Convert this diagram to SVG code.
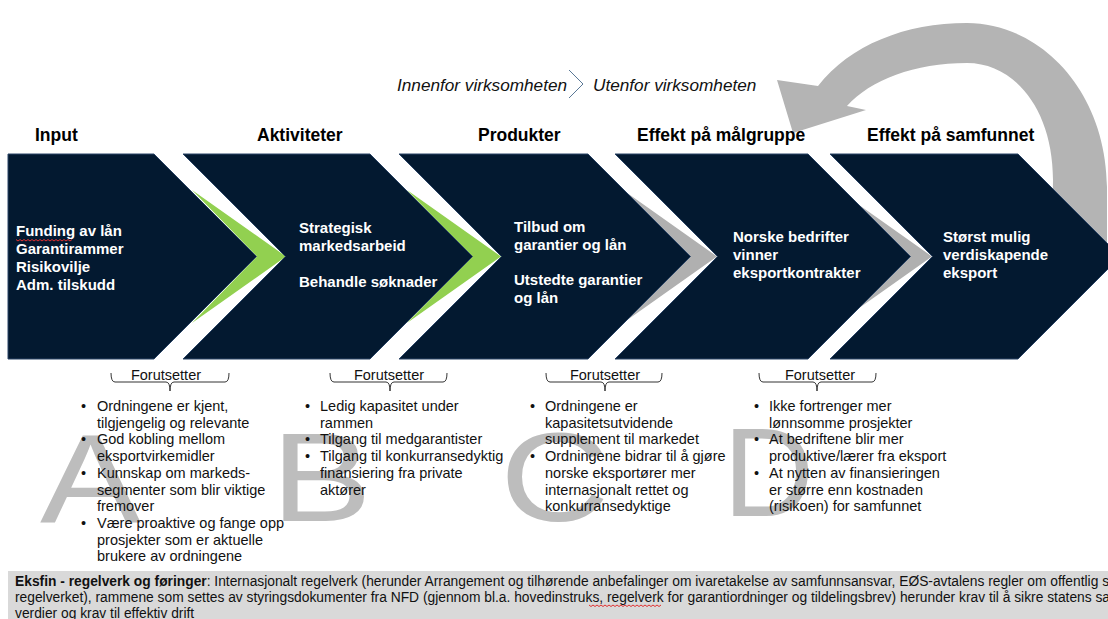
<svg xmlns="http://www.w3.org/2000/svg" width="1108" height="619" viewBox="0 0 1108 619">
<defs>
<style>
.hdr{font-family:"Liberation Sans",Arial,sans-serif;font-weight:bold;font-size:17.5px;fill:#000}
.box{fill:#031930;stroke:#2a4466;stroke-width:1}
.bt{font-family:"Liberation Sans",Arial,sans-serif;font-weight:bold;font-size:15px;fill:#fff}
.big{font-family:"Liberation Sans",Arial,sans-serif;font-size:126px;fill:#bdbdbd}
.li{font-family:"Liberation Sans",Arial,sans-serif;font-size:14.5px;fill:#111}
.fo{font-family:"Liberation Sans",Arial,sans-serif;font-size:14.5px;fill:#111;text-anchor:middle}
.br{fill:none;stroke:#333;stroke-width:1}
.it{font-family:"Liberation Sans",Arial,sans-serif;font-style:italic;font-size:17.2px;fill:#111}
.ft{font-family:"Liberation Sans",Arial,sans-serif;font-size:13.8px;fill:#111}
.green{fill:#92d050}
.grey{fill:#b0b0b0}
.wave{fill:none;stroke:#e03030;stroke-width:1}
</style>
</defs>
<rect width="1108" height="619" fill="#fff"/>

<!-- big background letters -->
<g id="letters">
<text class="big" transform="translate(40,522) scale(1.2,1)">A</text>
<text class="big" transform="translate(271,521) scale(1.2,1)">B</text>
<text class="big" transform="translate(500,521) scale(1.2,1)">C</text>
<text class="big" font-size="120" x="723" y="516">D</text>
</g>

<!-- connectors: accent chevrons and feedback arrow -->
<g id="connectors">
<path class="green" d="M192,190 L286,256.5 L192,323 L257,256.5 Z"/>
<path class="green" d="M407,190 L501,256.5 L407,323 L472,256.5 Z"/>
<path class="grey" d="M623,190 L717,256.5 L623,323 L688,256.5 Z"/>
<path class="grey" d="M838,190 L932,256.5 L838,323 L903,256.5 Z"/>
<path fill="#b4b4b4" d="M1107,250 L1107,187 C1106,90 1040,23 967,23 C905,23 850,45 818,86 L777,80 L793,133 L866,110 L847,106 C870,80 915,63 967,63 C1015,63 1053,110 1053,180 L1052,250 Z"/>
</g>

<!-- headers -->
<g id="headers">
<text class="hdr" x="35" y="141">Input</text>
<text class="hdr" x="257" y="141">Aktiviteter</text>
<text class="hdr" x="478" y="141">Produkter</text>
<text class="hdr" x="637" y="141">Effekt på målgruppe</text>
<text class="hdr" x="867" y="141">Effekt på samfunnet</text>
</g>

<g id="scope-label">
<text class="it" x="397" y="91">Innenfor virksomheten</text>
<path d="M569,70 L583,84 L569,98" fill="none" stroke="#5a7896" stroke-width="1"/>
<text class="it" x="593" y="91">Utenfor virksomheten</text>
</g>

<g id="node-input">
<path class="box" d="M8,154 H154 L256.5,256.5 L154,359 H8 Z"/>
<text class="bt" x="16" y="236">Funding av lån</text>
<text class="bt" x="16" y="254">Garantirammer</text>
<text class="bt" x="16" y="272">Risikovilje</text>
<text class="bt" x="16" y="290">Adm. tilskudd</text>
<path class="wave" d="M16,239.5 l2,1.5 l2,-1.5 l2,1.5 l2,-1.5 l2,1.5 l2,-1.5 l2,1.5 l2,-1.5 l2,1.5 l2,-1.5 l2,1.5 l2,-1.5 l2,1.5 l2,-1.5 l2,1.5 l2,-1.5 l2,1.5 l2,-1.5 l2,1.5 l2,-1.5 l2,1.5 l2,-1.5 l2,1.5 l2,-1.5 l2,1.5 l2,-1.5 l2,1.5 l2,-1.5"/>
</g>

<g id="node-aktiviteter">
<path class="box" d="M183,154 H370 L472.5,256.5 L370,359 H183 L285.5,256.5 Z"/>
<text class="bt" x="299" y="233">Strategisk</text>
<text class="bt" x="299" y="251">markedsarbeid</text>
<text class="bt" x="299" y="287">Behandle søknader</text>
</g>

<g id="node-produkter">
<path class="box" d="M399,154 H588 L690.5,256.5 L588,359 H399 L501.5,256.5 Z"/>
<text class="bt" x="514" y="232">Tilbud om</text>
<text class="bt" x="514" y="250">garantier og lån</text>
<text class="bt" x="514" y="285">Utstedte garantier</text>
<text class="bt" x="514" y="303">og lån</text>
</g>

<g id="node-malgruppe">
<path class="box" d="M615,154 H808 L910.5,256.5 L808,359 H615 L717.5,256.5 Z"/>
<text class="bt" x="733" y="242">Norske bedrifter</text>
<text class="bt" x="733" y="260">vinner</text>
<text class="bt" x="733" y="278">eksportkontrakter</text>
</g>

<g id="node-samfunnet">
<path class="box" d="M830,154 H1018 L1120.5,256.5 L1018,359 H830 L932.5,256.5 Z"/>
<text class="bt" x="943" y="242">Størst mulig</text>
<text class="bt" x="943" y="260">verdiskapende</text>
<text class="bt" x="943" y="278">eksport</text>
</g>

<g id="forutsetter-a">
<path class="br" d="M111,373 Q111,382 115,382 H166 Q170,382 170,391 Q170,382 174,382 H225 Q229,382 229,373"/>
<text class="fo" x="166" y="380">Forutsetter</text>
<g class="li">
<text x="81" y="411">•</text><text x="97" y="411">Ordningene er kjent,</text>
<text x="97" y="427.7">tilgjengelig og relevante</text>
<text x="81" y="444.4">•</text><text x="97" y="444.4">God kobling mellom</text>
<text x="97" y="461.1">eksportvirkemidler</text>
<text x="81" y="477.8">•</text><text x="97" y="477.8">Kunnskap om markeds-</text>
<text x="97" y="494.5">segmenter som blir viktige</text>
<text x="97" y="511.2">fremover</text>
<text x="81" y="527.9">•</text><text x="97" y="527.9">Være proaktive og fange opp</text>
<text x="97" y="544.6">prosjekter som er aktuelle</text>
<text x="97" y="561.3">brukere av ordningene</text>
</g>
</g>

<g id="forutsetter-b">
<path class="br" d="M330,373 Q330,382 334,382 H386 Q390,382 390,391 Q390,382 394,382 H443 Q447,382 447,373"/>
<text class="fo" x="389" y="380">Forutsetter</text>
<g class="li">
<text x="305" y="411">•</text><text x="320" y="411">Ledig kapasitet under</text>
<text x="320" y="427.7">rammen</text>
<text x="305" y="444.4">•</text><text x="320" y="444.4">Tilgang til medgarantister</text>
<text x="305" y="461.1">•</text><text x="320" y="461.1">Tilgang til konkurransedyktig</text>
<text x="320" y="477.8">finansiering fra private</text>
<text x="320" y="494.5">aktører</text>
</g>
</g>

<g id="forutsetter-c">
<path class="br" d="M546,373 Q546,382 550,382 H601 Q605,382 605,391 Q605,382 609,382 H658 Q662,382 662,373"/>
<text class="fo" x="605" y="380">Forutsetter</text>
<g class="li">
<text x="530" y="411">•</text><text x="545" y="411">Ordningene er</text>
<text x="545" y="427.7">kapasitetsutvidende</text>
<text x="545" y="444.4">supplement til markedet</text>
<text x="530" y="461.1">•</text><text x="545" y="461.1">Ordningene bidrar til å gjøre</text>
<text x="545" y="477.8">norske eksportører mer</text>
<text x="545" y="494.5">internasjonalt rettet og</text>
<text x="545" y="511.2">konkurransedyktige</text>
</g>
</g>

<g id="forutsetter-d">
<path class="br" d="M759,373 Q759,382 763,382 H813 Q817,382 817,391 Q817,382 821,382 H872 Q876,382 876,373"/>
<text class="fo" x="820" y="380">Forutsetter</text>
<g class="li">
<text x="754" y="411">•</text><text x="769" y="411">Ikke fortrenger mer</text>
<text x="769" y="427.7">lønnsomme prosjekter</text>
<text x="754" y="444.4">•</text><text x="769" y="444.4">At bedriftene blir mer</text>
<text x="769" y="461.1">produktive/lærer fra eksport</text>
<text x="754" y="477.8">•</text><text x="769" y="477.8">At nytten av finansieringen</text>
<text x="769" y="494.5">er større enn kostnaden</text>
<text x="769" y="511.2">(risikoen) for samfunnet</text>
</g>
</g>

<g id="footer">
<rect x="8" y="571" width="1100" height="48" fill="#d9d9d9"/>
<text class="ft" x="15" y="585.5"><tspan font-weight="bold">Eksfin - regelverk og føringer</tspan>: Internasjonalt regelverk (herunder Arrangement og tilhørende anbefalinger om ivaretakelse av samfunnsansvar, EØS-avtalens regler om offentlig s</text>
<text class="ft" x="15" y="602">regelverket), rammene som settes av styringsdokumenter fra NFD (gjennom bl.a. hovedinstruks, regelverk for garantiordninger og tildelingsbrev) herunder krav til å sikre statens sa</text>
<text class="ft" x="15" y="618">verdier og krav til effektiv drift</text>
<path class="wave" d="M589,605 l2,1.5 l2,-1.5 l2,1.5 l2,-1.5 l2,1.5 l2,-1.5 l2,1.5 l2,-1.5 l2,1.5 l2,-1.5 l2,1.5 l2,-1.5 l2,1.5 l2,-1.5 l2,1.5 l2,-1.5 l2,1.5 l2,-1.5 l2,1.5 l2,-1.5 l2,1.5 l2,-1.5 l2,1.5 l2,-1.5 l2,1.5 l2,-1.5 l2,1.5 l2,-1.5 l2,1.5 l2,-1.5 l2,1.5 l2,-1.5 l2,1.5 l2,-1.5 l2,1.5 l2,-1.5"/>
</g>
</svg>
